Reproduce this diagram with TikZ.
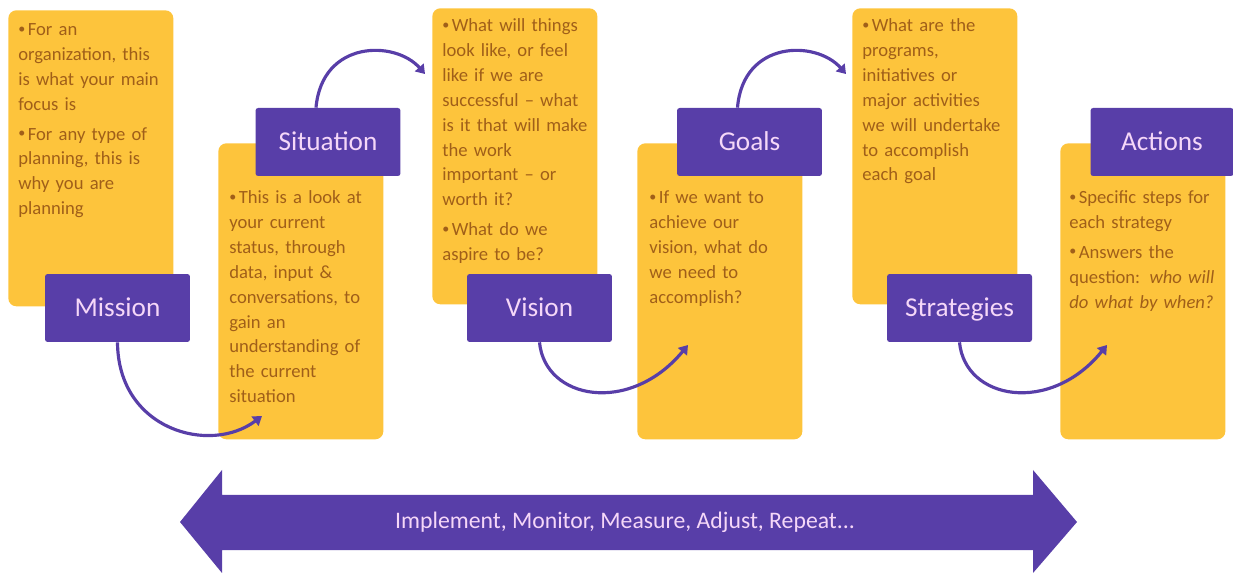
\documentclass[tikz,border=0pt]{standalone}
\usepackage{fontspec}
\setmainfont{Carlito}
\usetikzlibrary{calc,arrows.meta}
\definecolor{Tile}{RGB}{253,196,60}
\definecolor{PlanPurple}{RGB}{88,62,168}
\definecolor{CardText}{RGB}{160,95,25}
\definecolor{TagText}{RGB}{245,215,248}
\newcommand{\bpt}[1]{\par\hangindent=0.19cm\hangafter=1\noindent\makebox[0.19cm][l]{\raisebox{0.25ex}{\footnotesize\textbullet}}#1\par}
\newcommand{\bgap}{\vspace{2.8pt}}

\begin{document}
\begin{tikzpicture}[x=0.02cm, y=-0.02cm]
	\useasboundingbox (0,0) rectangle (1233,573);
	\tikzstyle{card}=[fill=Tile, rounded corners=4.5pt, minimum width=3.3cm, minimum height=5.92cm, anchor=north west, inner sep=0pt];
	\tikzstyle{blurb}=[anchor=north west, inner sep=0pt, text width=3.1cm, align=left, text=CardText, font=\fontsize{10.6}{14.2}\selectfont];
	\tikzstyle{tag}=[fill=PlanPurple, text=TagText, rounded corners=1.5pt, minimum width=2.9cm, minimum height=1.36cm, inner sep=0pt, text height=10pt, text depth=0pt, font=\fontsize{15.5}{18}\selectfont];
	\tikzstyle{link}=[draw=PlanPurple, line width=1.8pt, -{Triangle[length=5pt,width=6.5pt]}];
	% yellow cards
	\node [card] (missioncard) at (8, 10) {};
	\node [card] (situationcard) at (218, 143) {};
	\node [card] (visioncard) at (432, 8) {};
	\node [card] (goalscard) at (637, 143) {};
	\node [card] (strategiescard) at (852, 8) {};
	\node [card] (actionscard) at (1060, 143) {};
	% card texts
	\node [blurb] (missiontext) at (18, 10) {\bpt{For an\\organization, this\\is what your main\\focus is}\bgap\bpt{For any type of\\planning, this is\\why you are\\planning}};
	\node [blurb] (situationtext) at (229, 178) {\bpt{This is a look at\\your current\\status, through\\data, input \&\\conversations, to\\gain an\\understanding of\\the current\\situation}};
	\node [blurb] (visiontext) at (442, 6) {\bpt{What will things\\look like, or feel\\like if we are\\successful -- what\\is it that will make\\the work\\important -- or\\worth it?}\bgap\bpt{What do we\\aspire to be?}};
	\node [blurb] (goalstext) at (649, 178) {\bpt{If we want to\\achieve our\\vision, what do\\we need to\\accomplish?}};
	\node [blurb] (strategiestext) at (862, 6) {\bpt{What are the\\programs,\\initiatives or\\major activities\\we will undertake\\to accomplish\\each goal}};
	\node [blurb] (actionstext) at (1069, 178) {\bpt{Specific steps for\\each strategy}\bgap\bpt{Answers the\\question: \emph{who will}\\\emph{do what by when?}}};
	% purple tags
	\node [tag] (mission) at (117.5, 308) {Mission};
	\node [tag] (situation) at (328, 142) {Situation};
	\node [tag] (vision) at (539.5, 308) {Vision};
	\node [tag] (goals) at (749.5, 142) {Goals};
	\node [tag] (strategies) at (959.5, 308) {Strategies};
	\node [tag, minimum width=2.86cm] (actions) at (1162, 142) {Actions};
	% arrow ends
	\coordinate (sitin) at (262, 416);
	\coordinate (visin) at (425, 74);
	\coordinate (goalin) at (688, 345);
	\coordinate (stratin) at (846, 74);
	\coordinate (actin) at (1107, 345);
	\draw [link] (mission.south) .. controls (118, 430) and (210, 455) .. (sitin);
	\draw [link] ([xshift=-0.24cm]situation.north) .. controls (322, 40) and (395, 40) .. (visin);
	\draw [link] (vision.south) .. controls (545, 400) and (630, 415) .. (goalin);
	\draw [link] ([xshift=-0.24cm]goals.north) .. controls (743, 40) and (816, 40) .. (stratin);
	\draw [link] (strategies.south) .. controls (965, 400) and (1050, 415) .. (actin);
	% bottom double arrow
	\fill [PlanPurple] (180, 522) -- (222, 470) -- (222, 495) -- (1033, 495) -- (1033, 470) -- (1077, 522) -- (1033, 573) -- (1033, 550) -- (222, 550) -- (222, 573) -- cycle;
	\node [text=TagText, font=\fontsize{13.5}{16}\selectfont] (loop) at (625, 522) {Implement, Monitor, Measure, Adjust, Repeat...};
\end{tikzpicture}
\end{document}
